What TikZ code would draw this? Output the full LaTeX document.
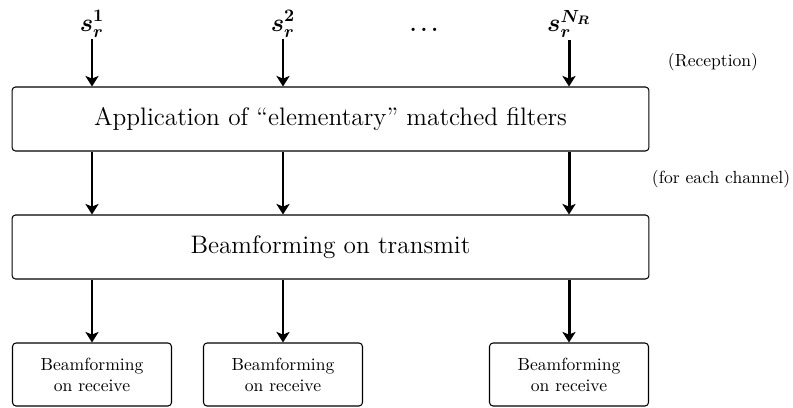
\documentclass[tikz,border=0pt]{standalone}
\usepackage{amsmath,amssymb,bm}
\usetikzlibrary{arrows.meta}
\tikzset{
  stage/.style={draw, line width=0.6pt, rounded corners=2pt, minimum height=1.28cm, inner sep=0pt, font=\Large},
  rxbox/.style={draw, line width=0.6pt, rounded corners=2pt, minimum width=3.18cm, minimum height=1.26cm, align=center, inner sep=0pt},
  sig/.style={line width=1.7pt, -{Stealth[length=6pt,width=7.5pt,inset=1.5pt]}},
  inlabel/.style={font=\Large, inner sep=1pt},
  note/.style={font=\normalsize}
}

\begin{document}
\begin{tikzpicture}[x=0.02cm, y=-0.02cm]
  \useasboundingbox (0, 0) rectangle (793, 407);
  % stages
  \node[stage, minimum width=12.74cm] (app) at (330.5, 119) {Application of ``elementary'' matched filters};
  \node[stage, minimum width=12.74cm] (bft) at (330.5, 247) {Beamforming on transmit};
  % received signals
  \foreach \i/\x/\s in {1/92/1, 2/283/2, 3/569/{N_R}}{
    \node[inlabel] (s\i) at (\x, 24) {$\bm{s_r^{\s}}$};
    \node[rxbox] (rx\i) at (\x, 374.5) {Beamforming\\on receive};
    \draw[sig] (s\i.south) -- (s\i.south |- app.north);
    \draw[sig] (s\i.south |- app.south) -- (s\i.south |- bft.north);
    \draw[sig] (rx\i.north |- bft.south) -- (rx\i.north);
  }
  \node[font=\large, inner sep=1pt] (dots) at (424, 30) {$\bm{\ldots}$};
  \node[note] (recep) at (713, 62) {(Reception)};
  \node[note] (chan) at (721, 179) {(for each channel)};
\end{tikzpicture}
\end{document}
